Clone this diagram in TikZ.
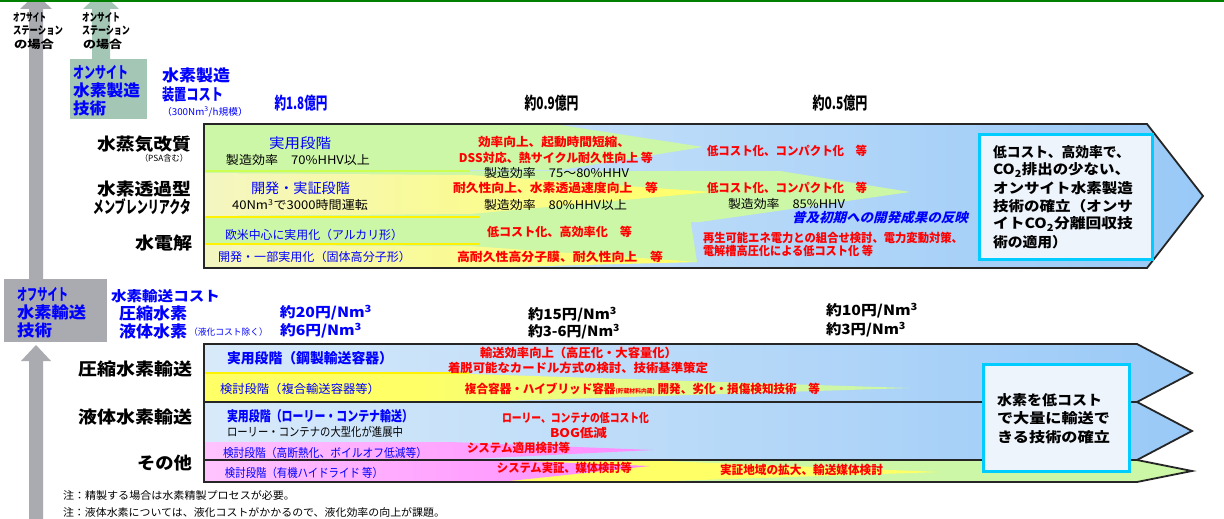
\documentclass[tikz,border=0pt]{standalone}
\usepackage{fontspec}
\usepackage{graphicx}
\setmainfont{Noto Sans CJK JP}
\newfontfamily\jpit{Noto Sans CJK JP}[FakeSlant=0.25]
\definecolor{dgreen}{HTML}{008000}
\definecolor{arrgray}{HTML}{A9ABB0}
\definecolor{onsite}{HTML}{A3C6B5}
\definecolor{blL}{HTML}{D8EAFA}
\definecolor{blR}{HTML}{99C9F7}
\definecolor{grn}{HTML}{CCF7A6}
\definecolor{yel}{HTML}{FFFF66}
\definecolor{pyel}{HTML}{F4F6C2}
\definecolor{pnk}{HTML}{FFC4FF}
\definecolor{cyanb}{HTML}{00CCFF}
\definecolor{boxf}{HTML}{EEF4FC}
\definecolor{blu}{HTML}{0000FF}
\definecolor{rd}{HTML}{FF0000}
\pgfdeclarehorizontalshading{ygshade}{100bp}{color(0bp)=(yel); color(40bp)=(yel); color(70bp)=(grn); color(100bp)=(grn)}
\newcommand\fw[2]{\resizebox{#1pt}{\height}{#2}}
\tikzset{
  t/.style={inner sep=0pt,outer sep=0pt},
  lab/.style={t,anchor=east,font=\bfseries\fontsize{17}{17}\selectfont},
  stn/.style={t,anchor=west,font=\bfseries\fontsize{11}{11}\selectfont},
  rb/.style={t,text=rd,font=\bfseries\fontsize{12}{12}\selectfont},
  bk/.style={t,font=\fontsize{12}{12}\selectfont},
  bl/.style={t,text=blu,font=\fontsize{12}{12}\selectfont},
  blbig/.style={t,text=blu,font=\fontsize{14}{14}\selectfont},
  blbold/.style={t,text=blu,font=\bfseries\fontsize{14}{14}\selectfont},
  bb/.style={t,text=blu,font=\bfseries\fontsize{16}{16}\selectfont},
  cost/.style={t,font=\bfseries\fontsize{14}{14}\selectfont},
  oku/.style={t,font=\bfseries\fontsize{17}{17}\selectfont},
  goal/.style={t,anchor=west,font=\bfseries\fontsize{14}{14}\selectfont},
  arrline/.style={line width=1.8pt,black!85,line join=miter},
  goalbox/.style={fill=boxf,draw=cyanb,line width=3pt},
}
\begin{document}
\begin{tikzpicture}[x=1pt,y=-1pt]
\useasboundingbox (0,0) rectangle (1224,519);
\fill[white] (0,0) rectangle (1224,519);

% vertical background arrows
\fill[arrgray] (29,279) -- (29,9) -- (20,9) -- (36,-6) -- (52,9) -- (43,9) -- (43,279) -- cycle;
\fill[onsite] (92,59) -- (92,9) -- (83,9) -- (101,-8) -- (119,9) -- (110,9) -- (110,59) -- cycle;
\fill[arrgray] (29,519) -- (29,361) -- (21,361) -- (36,345) -- (51,361) -- (43,361) -- (43,519) -- cycle;
\fill[dgreen] (0,0) rectangle (1224,2);

\node[stn] (s1) at (13,17) {\fw{33}{オフサイト}};
\node[stn] (s2) at (13,31) {\fw{50}{ステーション}};
\node[stn] (s3) at (14,44) {\fw{40}{の場合}};
\node[stn] (s4) at (82,17) {\fw{38}{オンサイト}};
\node[stn] (s5) at (82,31) {\fw{48}{ステーション}};
\node[stn] (s6) at (83,44) {\fw{39}{の場合}};

% on-site box
\fill[onsite] (70,59) rectangle (147,119);
\node[bb,anchor=west] (o1) at (73,72) {\fw{55}{オンサイト}};
\node[bb,anchor=west] (o2) at (73,90) {\fw{67}{水素製造}};
\node[bb,anchor=west] (o3) at (73,108) {\fw{33}{技術}};
\node[bb,anchor=west] (c1) at (162,75) {\fw{68}{水素製造}};
\node[bb,anchor=west] (c2) at (162,94) {\fw{61}{装置コスト}};
\node[t,text=blu,font=\fontsize{9.5}{9.5}\selectfont,anchor=west] (c3) at (162,112) {\fw{86}{（300Nm\textsuperscript{3}/h規模）}};
\node[oku,text=blu] (k1) at (301,103) {\fw{53}{約1.8億円}};
\node[oku] (k2) at (551.5,103) {\fw{54}{約0.9億円}};
\node[oku] (k3) at (840,103) {\fw{55}{約0.5億円}};

% production arrow
\shade[left color=blL,right color=blR] (204,124) -- (1147,124) -- (1203,196) -- (1147,268) -- (204,268) -- cycle;
\fill[grn] (204,125) -- (560,125) -- (703,147) -- (560,170) -- (204,170) -- cycle;
\fill[grn] (204,171) -- (780,171) -- (910,192) -- (700,222) -- (204,222) -- cycle;
\shade[left color=pyel,right color=yel] (204,173) -- (470,175) -- (712,192) -- (470,214) -- (204,216) -- cycle;
\fill[grn] (204,217) -- (690,217) -- (697,262) -- (204,268) -- cycle;
\shade[left color=pyel,right color=yel] (204,245) -- (470,246) -- (697,262) -- (470,268) -- (204,268) -- cycle;
\draw[yel!80!green,line width=1.2pt] (204,171) -- (470,171);
\draw[yellow,line width=1.5pt] (204,217) -- (480,217);
\draw[yellow,line width=1.5pt] (204,244) -- (480,244);
\draw[arrline] (204,124) -- (1147,124) -- (1203,196) -- (1147,268) -- (204,268) -- cycle;

\node[lab] (l1) at (191,144) {\fw{94}{水蒸気改質}};
\node[t,anchor=east,font=\fontsize{8.5}{8.5}\selectfont] (l2) at (188,158) {\fw{48}{（PSA含む）}};
\node[lab] (l3) at (191,189) {\fw{94}{水素透過型}};
\node[lab] (l4) at (191,207) {\fw{98}{メンブレンリアクタ}};
\node[lab] (l5) at (192,243) {\fw{57}{水電解}};

\node[blbig] (p1) at (300,143) {\fw{62}{実用段階}};
\node[bk] (p2) at (298,160) {\fw{144}{製造効率　70\%HHV以上}};
\node[blbig] (p3) at (300.5,188) {\fw{99}{開発・実証段階}};
\node[bk] (p4) at (300,205) {\fw{136}{40Nm\textsuperscript{3}で3000時間運転}};
\node[bl] (p5) at (314,235) {\fw{178}{欧米中心に実用化（アルカリ形）}};
\node[bl] (p6) at (314.5,257) {\fw{193}{開発・一部実用化（固体高分子形）}};
\node[rb] (r1) at (554,142) {\fw{152}{効率向上、起動時間短縮、}};
\node[rb] (r2) at (556,158) {\fw{194}{DSS対応、熱サイクル耐久性向上 等}};
\node[bk] (e1) at (556.5,173) {\fw{145}{製造効率　75～80\%HHV}};
\node[rb] (r3) at (555.5,188) {\fw{205}{耐久性向上、水素透過速度向上　等}};
\node[bk] (e2) at (555.5,205) {\fw{143}{製造効率　80\%HHV以上}};
\node[rb] (r4) at (787,151) {\fw{160}{低コスト化、コンパクト化　等}};
\node[rb] (r5) at (787,188) {\fw{160}{低コスト化、コンパクト化　等}};
\node[bk] (e3) at (786.5,204) {\fw{117}{製造効率　85\%HHV}};
\node[t,text=blu,font=\jpit\bfseries\fontsize{13}{13}\selectfont] (f1) at (880,218) {\fw{176}{普及初期への開発成果の反映}};
\node[rb] (r6) at (559.5,232) {\fw{145}{低コスト化、高効率化　等}};
\node[rb] (r7) at (560,257) {\fw{206}{高耐久性高分子膜、耐久性向上　等}};
\node[rb,anchor=west] (r8) at (703,238) {\fw{260}{再生可能エネ電力との組合せ検討、電力変動対策、}};
\node[rb,anchor=west] (r9) at (703,251) {\fw{170}{電解槽高圧化による低コスト化 等}};

\draw[goalbox] (979,134) rectangle (1152,259);
\node[goal] (g1) at (993,152) {\fw{137}{低コスト、高効率で、}};
\node[goal] (g2) at (993,170) {\fw{137}{CO\textsubscript{2}排出の少ない、}};
\node[goal] (g3) at (993,188) {\fw{140}{オンサイト水素製造}};
\node[goal] (g4) at (993,206) {\fw{140}{技術の確立（オンサ}};
\node[goal] (g5) at (993,224) {\fw{140}{イトCO\textsubscript{2}分離回収技}};
\node[goal] (g6) at (993,242) {\fw{74}{術の適用）}};

% off-site section
\fill[arrgray] (4,279) rectangle (107,342);
\node[bb,anchor=west] (q1) at (17,294) {\fw{51}{オフサイト}};
\node[bb,anchor=west] (q2) at (17,312) {\fw{69}{水素輸送}};
\node[bb,anchor=west] (q3) at (17,330) {\fw{35}{技術}};
\node[blbold,anchor=west] (h1) at (111,296) {\fw{109}{水素輸送コスト}};
\node[bb,anchor=west] (h2) at (119,313) {\fw{68}{圧縮水素}};
\node[bb,anchor=west] (h3) at (119,331) {\fw{68}{液体水素}};
\node[t,text=blu,font=\fontsize{9}{9}\selectfont,anchor=west] (h4) at (189,332) {\fw{79}{（液化コスト除く）}};
\node[cost,text=blu] (m1) at (326,313) {\fw{92}{約20円/Nm\textsuperscript{3}}};
\node[cost,text=blu] (m2) at (321,331) {\fw{82}{約6円/Nm\textsuperscript{3}}};
\node[cost] (m3) at (572.5,315) {\fw{89}{約15円/Nm\textsuperscript{3}}};
\node[cost] (m4) at (574,332) {\fw{92}{約3-6円/Nm\textsuperscript{3}}};
\node[cost] (m5) at (872,311) {\fw{92}{約10円/Nm\textsuperscript{3}}};
\node[cost] (m6) at (866,330) {\fw{80}{約3円/Nm\textsuperscript{3}}};

% compressed hydrogen arrow
\shade[left color=blL,right color=blR] (204,344) -- (1137,344) -- (1192,373) -- (1137,402) -- (204,402) -- cycle;
\shade[shading=ygshade] (204,374) -- (470,374) -- (910,388) -- (470,402) -- (204,402) -- cycle;
\draw[yellow,line width=1.5pt] (204,373) -- (470,373);
\draw[arrline] (204,344) -- (1137,344) -- (1192,373) -- (1137,402) -- (204,402) -- cycle;
% liquid hydrogen arrow
\shade[left color=blL,right color=blR] (204,402) -- (1137,402) -- (1192,431) -- (1137,460) -- (204,460) -- cycle;
\shade[left color=pnk,right color=pnk!70!magenta] (204,442) -- (450,442) -- (653,450) -- (450,460) -- (204,460) -- cycle;
\draw[arrline] (204,402) -- (1137,402) -- (1192,431) -- (1137,460) -- (204,460) -- cycle;
% other arrow
\fill[grn] (204,460) -- (1137,460) -- (1192,471) -- (1137,482) -- (204,482) -- cycle;
\fill[yel] (204,460) -- (640,460) -- (940,472) -- (640,482) -- (204,482) -- cycle;
\shade[left color=pnk,right color=pnk!70!magenta] (204,460) -- (500,460) -- (650,466) -- (500,482) -- (204,482) -- cycle;
\draw[arrline] (204,460) -- (1137,460) -- (1192,471) -- (1137,482) -- (204,482) -- cycle;

\node[lab] (b1) at (192,369) {\fw{114}{圧縮水素輸送}};
\node[lab] (b2) at (192,417) {\fw{114}{液体水素輸送}};
\node[lab] (b3) at (192,463) {\fw{55}{その他}};

\node[blbold] (u1) at (310,358) {\fw{166}{実用段階（鋼製輸送容器）}};
\node[bl] (u2) at (300,389) {\fw{160}{検討段階（複合輸送容器等）}};
\node[blbold] (u3) at (320,416) {\fw{186}{実用段階（ローリー・コンテナ輸送）}};
\node[bk] (u4) at (315,432) {\fw{176}{ローリー・コンテナの大型化が進展中}};
\node[bl] (u5) at (325,453) {\fw{204}{検討段階（高断熱化、ボイルオフ低減等）}};
\node[bl] (u6) at (304,473) {\fw{158}{検討段階（有機ハイドライド 等）}};
\node[rb] (v1) at (578.5,353) {\fw{197}{輸送効率向上（高圧化・大容量化）}};
\node[rb] (v2) at (578,368) {\fw{260}{着脱可能なカードル方式の検討、技術基準策定}};
\node[rb] (v3) at (642.5,389) {\fw{355}{複合容器・ハイブリッド容器{\fontsize{6}{6}\selectfont(貯蔵材料内蔵)} 開発、劣化・損傷検知技術　等}};
\node[rb] (v4) at (575.5,418) {\fw{147}{ローリー、コンテナの低コスト化}};
\node[rb] (v5) at (578.5,433) {\fw{57}{BOG低減}};
\node[rb] (v6) at (518.5,448) {\fw{103}{システム適用検討等}};
\node[rb] (v7) at (564.5,468) {\fw{135}{システム実証、媒体検討等}};
\node[rb] (v8) at (801.5,470) {\fw{163}{実証地域の拡大、輸送媒体検討}};

\draw[goalbox] (983,364) rectangle (1129,471);
\node[goal] (w1) at (997,400) {\fw{105}{水素を低コスト}};
\node[goal] (w2) at (997,418) {\fw{113}{で大量に輸送で}};
\node[goal] (w3) at (997,437) {\fw{113}{きる技術の確立}};

% notes
\node[t,anchor=west,font=\fontsize{10.5}{10.5}\selectfont] (n1) at (63,495) {\fw{232}{注：精製する場合は水素精製プロセスが必要。}};
\node[t,anchor=west,font=\fontsize{10.5}{10.5}\selectfont] (n2) at (63,512) {\fw{382}{注：液体水素については、液化コストがかかるので、液化効率の向上が課題。}};
\end{tikzpicture}
\end{document}
